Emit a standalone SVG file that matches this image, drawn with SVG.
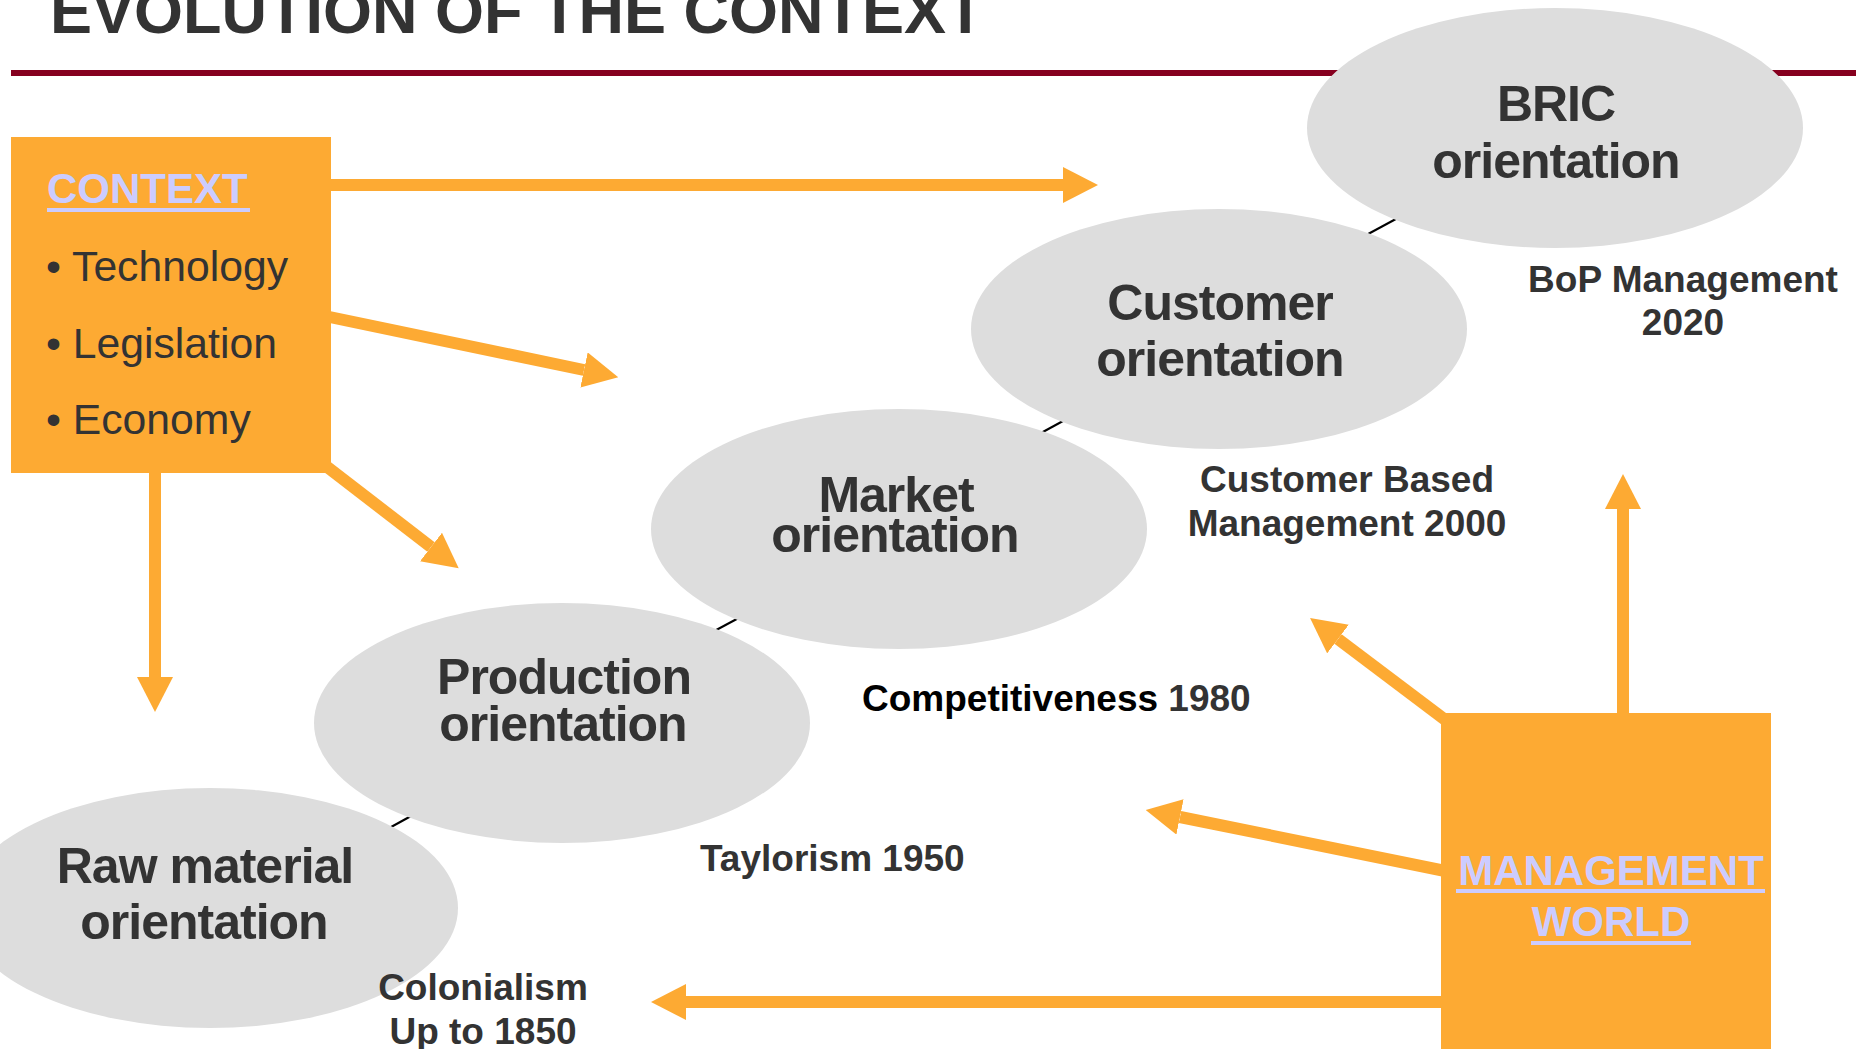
<svg xmlns="http://www.w3.org/2000/svg" width="1856" height="1049" viewBox="0 0 1856 1049">
  <defs>
    <style>
      .title { font-family: "Liberation Sans", Arial, sans-serif; font-weight: bold; font-size: 63px; fill: #333333; }
      .box { fill: #FDAA33; }
      .boxhead { font-family: "Liberation Sans", Arial, sans-serif; font-weight: bold; font-size: 42px; fill: #CCCCFF; }
      .uline { fill: #CCCCFF; }
      .bullet { font-family: "Liberation Sans", Arial, sans-serif; font-size: 42.7px; fill: #333333; }
      .stage { fill: #DDDDDD; }
      .stagetxt { font-family: "Liberation Sans", Arial, sans-serif; font-weight: bold; font-size: 50px; letter-spacing: -1px; fill: #333333; text-anchor: middle; }
      .era { font-family: "Liberation Sans", Arial, sans-serif; font-weight: bold; font-size: 37px; fill: #333333; }
      .mid { text-anchor: middle; }
      .arrow { stroke: #FDAA33; stroke-width: 12; fill: none; marker-end: url(#head); }
      .link { stroke: #000000; stroke-width: 2; }
    </style>
    <marker id="head" viewBox="0 0 35 36" markerWidth="35" markerHeight="36" markerUnits="userSpaceOnUse" refX="0" refY="18" orient="auto">
      <path d="M0,0 L35,18 L0,36 Z" fill="#FDAA33"/>
    </marker>
  </defs>

  <rect width="1856" height="1049" fill="#FFFFFF"/>

  <!-- heading and rule -->
  <text class="title" x="50" y="33">EVOLUTION OF THE CONTEXT</text>
  <rect x="11" y="70" width="1845" height="6" fill="#86001F"/>

  <!-- connectors: influence arrows and the chain between the stages -->
  <g id="connectors">
    <line class="arrow" x1="320" y1="185" x2="1063" y2="185"/>
    <line class="arrow" x1="320" y1="315" x2="584" y2="370"/>
    <line class="arrow" x1="300" y1="446" x2="431" y2="547"/>
    <line class="arrow" x1="155" y1="460" x2="155" y2="677"/>
    <line class="arrow" x1="1623" y1="730" x2="1623" y2="509"/>
    <line class="arrow" x1="1460" y1="731" x2="1338" y2="639"/>
    <line class="arrow" x1="1460" y1="874" x2="1180" y2="817"/>
    <line class="arrow" x1="1460" y1="1002" x2="686" y2="1002"/>
    <line class="link" x1="1357" y1="240" x2="1407" y2="213"/>
    <line class="link" x1="1030" y1="439" x2="1074" y2="415"/>
    <line class="link" x1="705" y1="636" x2="748" y2="613"/>
    <line class="link" x1="382" y1="832" x2="422" y2="810"/>
  </g>

  <!-- context factors -->
  <g id="context">
    <rect class="box" x="11" y="137" width="320" height="336"/>
    <text class="boxhead" x="47" y="203">CONTEXT</text>
    <rect class="uline" x="47" y="208" width="203" height="4"/>
    <text class="bullet" x="46" y="281">• Technology</text>
    <text class="bullet" x="46" y="358">• Legislation</text>
    <text class="bullet" x="46" y="434">• Economy</text>
  </g>

  <!-- management world -->
  <g id="management-world">
    <rect class="box" x="1441" y="713" width="330" height="336"/>
    <text class="boxhead mid" x="1611" y="885">MANAGEMENT</text>
    <rect class="uline" x="1456" y="889" width="309" height="4"/>
    <text class="boxhead mid" x="1611" y="936">WORLD</text>
    <rect class="uline" x="1531" y="941" width="160" height="4"/>
  </g>

  <!-- orientation stages -->
  <g id="bric">
    <ellipse class="stage" cx="1555" cy="128" rx="248" ry="120"/>
    <text class="stagetxt" x="1556" y="121">BRIC</text>
    <text class="stagetxt" x="1556" y="178">orientation</text>
  </g>
  <g id="customer">
    <ellipse class="stage" cx="1219" cy="329" rx="248" ry="120"/>
    <text class="stagetxt" x="1220" y="320">Customer</text>
    <text class="stagetxt" x="1220" y="376">orientation</text>
  </g>
  <g id="market">
    <ellipse class="stage" cx="899" cy="529" rx="248" ry="120"/>
    <text class="stagetxt" x="896" y="512">Market</text>
    <text class="stagetxt" x="895" y="552">orientation</text>
  </g>
  <g id="production">
    <ellipse class="stage" cx="562" cy="723" rx="248" ry="120"/>
    <text class="stagetxt" x="564" y="694">Production</text>
    <text class="stagetxt" x="563" y="741">orientation</text>
  </g>
  <g id="raw-material">
    <ellipse class="stage" cx="210" cy="908" rx="248" ry="120"/>
    <text class="stagetxt" x="205" y="883">Raw material</text>
    <text class="stagetxt" x="204" y="939">orientation</text>
  </g>

  <!-- era labels -->
  <g id="era-bop">
    <text class="era mid" x="1683" y="292">BoP Management</text>
    <text class="era mid" x="1683" y="335">2020</text>
  </g>
  <g id="era-customer">
    <text class="era mid" x="1347" y="492">Customer Based</text>
    <text class="era mid" x="1347" y="536">Management 2000</text>
  </g>
  <g id="era-competitiveness">
    <text class="era" x="862" y="711"><tspan fill="#000000">Competitiveness</tspan> 1980</text>
  </g>
  <g id="era-taylorism">
    <text class="era" x="700" y="871">Taylorism 1950</text>
  </g>
  <g id="era-colonialism">
    <text class="era mid" x="483" y="1000">Colonialism</text>
    <text class="era mid" x="483" y="1044">Up to 1850</text>
  </g>
</svg>
